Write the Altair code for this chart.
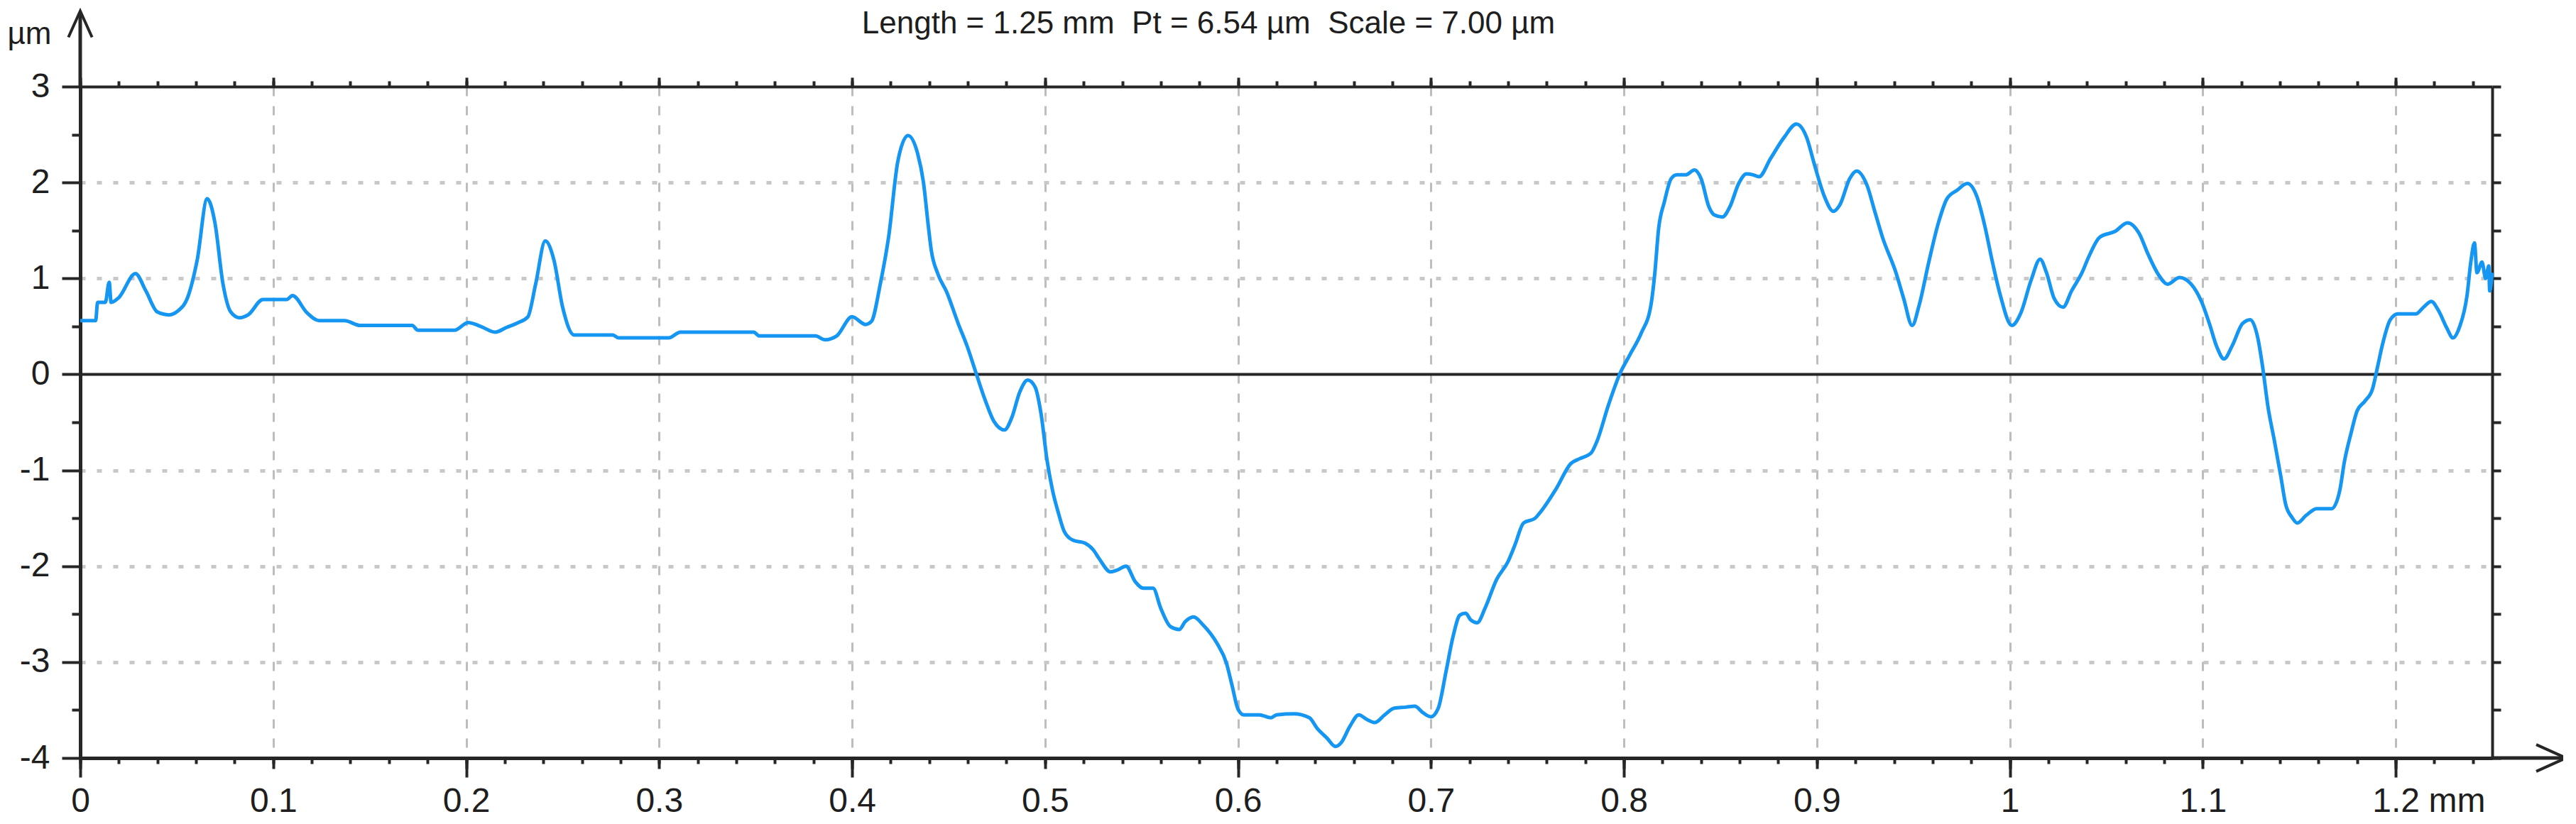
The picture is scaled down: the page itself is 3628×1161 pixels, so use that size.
import altair as alt
import pandas as pd

# ---- profile data ----
x_mm = [
    0.000, 0.008, 0.009, 0.013, 0.015, 0.016, 0.020, 0.0286, 0.034, 0.040, 0.046, 0.0506, 0.056, 0.0606,
    0.0658, 0.0698, 0.074, 0.078, 0.0825, 0.087, 0.0947, 0.101, 0.107, 0.110, 0.1176, 0.1237, 0.137, 0.145,
    0.172, 0.175, 0.194, 0.201, 0.2075, 0.215, 0.221, 0.227, 0.232, 0.236, 0.241, 0.2455, 0.250, 0.256,
    0.276, 0.279, 0.305, 0.311, 0.349, 0.352, 0.381, 0.386, 0.392, 0.400, 0.407, 0.410, 0.4146, 0.419,
    0.4237, 0.429, 0.434,
    0.437, 0.4395, 0.441, 0.4444, 0.449, 0.455, 0.4597, 0.4643, 0.469, 0.4735, 0.479, 0.4826, 0.487, 0.491,
    0.4948, 0.498, 0.501, 0.504, 0.507, 0.510, 0.5146, 0.5207, 0.525, 0.528, 0.534, 0.5375, 0.542, 0.5467,
    0.551, 0.556, 0.560, 0.565, 0.5696, 0.5726, 0.577, 0.5818, 0.589, 0.594, 0.597, 0.600, 0.603, 0.611,
    0.617, 0.620, 0.629, 0.637, 0.641, 0.646, 0.6505, 0.6535, 0.658, 0.6626, 0.667, 0.671, 0.676, 0.681,
    0.687, 0.6916, 0.696, 0.700, 0.7038, 0.7078, 0.7115, 0.715, 0.718, 0.7206, 0.724, 0.728, 0.734, 0.740,
    0.7435, 0.748, 0.754, 0.757, 0.765, 0.7725, 0.777, 0.783, 0.786, 0.792, 0.798, 0.803, 0.809, 0.814,
    0.816, 0.818, 0.821, 0.8245, 0.8275, 0.832, 0.8366, 0.840, 0.844, 0.847, 0.851, 0.855, 0.8595, 0.8635,
    0.867, 0.870, 0.876,
    0.883, 0.8894, 0.8947, 0.8987, 0.904, 0.9085, 0.912, 0.917, 0.9206, 0.926, 0.930, 0.934, 0.941, 0.945,
    0.9494, 0.953, 0.958, 0.963, 0.9674, 0.9727, 0.978, 0.983, 0.987, 0.991, 0.995, 1.001, 1.0057, 1.011,
    1.0157, 1.019, 1.023, 1.0276, 1.032, 1.0374, 1.041, 1.0466, 1.0545, 1.061, 1.067, 1.0717, 1.077, 1.0818,
    1.088, 1.094, 1.0995, 1.1034, 1.1074, 1.111, 1.1153, 1.1206, 1.1246, 1.1285, 1.131, 1.1338, 1.137,
    1.1404, 1.143, 1.1462, 1.1489, 1.1536, 1.159, 1.1668, 1.171, 1.1734, 1.177, 1.180, 1.184, 1.188, 1.1906,
    1.193, 1.1972, 1.2012, 1.2104, 1.2144, 1.2184, 1.2223, 1.2263, 1.2297, 1.233, 1.237, 1.2389, 1.2408,
    1.2421, 1.2447, 1.2466, 1.2482, 1.2487, 1.250,
]
z_um = [
    0.56, 0.56, 0.75, 0.75, 0.96, 0.75, 0.80, 1.05, 0.87, 0.65, 0.62, 0.66, 0.82, 1.19,
    1.83, 1.58, 0.94, 0.65, 0.59, 0.62, 0.78, 0.78, 0.78, 0.82, 0.64, 0.56, 0.56, 0.51,
    0.51, 0.46, 0.46, 0.54, 0.50, 0.44, 0.49, 0.54, 0.60, 0.94, 1.39, 1.19, 0.70, 0.41,
    0.41, 0.38, 0.38, 0.44, 0.44, 0.40, 0.40, 0.36, 0.40, 0.60, 0.52, 0.55, 0.94, 1.44,
    2.22, 2.49, 2.30,
    2.00, 1.55, 1.30, 1.05, 0.86, 0.53, 0.29, 0.01, -0.27, -0.49, -0.58, -0.46, -0.18, -0.06,
    -0.13, -0.42, -0.89, -1.22, -1.45, -1.64, -1.73, -1.76, -1.83, -1.92, -2.06, -2.04, -2.00, -2.16,
    -2.23, -2.23, -2.44, -2.63, -2.66, -2.58, -2.53, -2.61, -2.80, -3.01, -3.25, -3.49, -3.55, -3.55,
    -3.58, -3.55, -3.54, -3.58, -3.69, -3.79, -3.88, -3.84, -3.67, -3.55, -3.60, -3.63, -3.55, -3.48,
    -3.47, -3.46, -3.53, -3.57, -3.48, -3.10, -2.73, -2.51, -2.49, -2.56, -2.59, -2.44, -2.14, -1.95,
    -1.78, -1.55, -1.50, -1.43, -1.19, -0.93, -0.88, -0.82, -0.70, -0.32, 0.01, 0.20, 0.43, 0.72,
    1.05, 1.52, 1.80, 2.04, 2.08, 2.08, 2.13, 2.04, 1.75, 1.66, 1.64, 1.75, 1.99, 2.09,
    2.08, 2.06, 2.25,
    2.47, 2.61, 2.47, 2.19, 1.85, 1.70, 1.77, 2.04, 2.12, 1.97, 1.70, 1.43, 1.06, 0.79,
    0.51, 0.72, 1.17, 1.58, 1.83, 1.92, 1.99, 1.85, 1.55, 1.17, 0.83, 0.51, 0.64, 0.98,
    1.20, 1.06, 0.79, 0.70, 0.87, 1.06, 1.23, 1.43, 1.49, 1.58, 1.47, 1.25, 1.04, 0.94,
    1.01, 0.94, 0.75, 0.53, 0.28, 0.16, 0.30, 0.53, 0.57, 0.38, 0.08, -0.34, -0.68,
    -1.06, -1.36, -1.49, -1.55, -1.47, -1.40, -1.40, -1.21, -0.91, -0.60, -0.38, -0.28, -0.15, 0.08,
    0.30, 0.57, 0.63, 0.63, 0.70, 0.76, 0.66, 0.49, 0.38, 0.49, 0.83, 1.17, 1.37,
    1.06, 1.17, 1.00, 1.13, 0.87, 1.06,
]

# ---- axis tick values and texts ----
x_label_ticks = [0, 0.1, 0.2, 0.3, 0.4, 0.5, 0.6, 0.7, 0.8, 0.9, 1, 1.1, 1.2]
x_long_ticks = [0, 0.2, 0.4, 0.6, 0.8, 1, 1.2]
x_minor_ticks = [round(i * 0.02, 2) for i in range(63)]
y_label_ticks = [-4, -3, -2, -1, 0, 1, 2, 3]
y_half_ticks = [-3.5, -2.5, -1.5, -0.5, 0.5, 1.5, 2.5]
y_grid_ticks = [-3, -2, -1, 1, 2]
zero_level = [0]
x_domain = [0, 1.25]
y_domain = [-4, 3]
title_text = "Length = 1.25 mm\u00a0 Pt = 6.54 µm\u00a0 Scale = 7.00 µm"
y_unit = "µm"
x_unit = "mm"

W, H = 3397, 946
FONT = "Liberation Sans"
LINE_COLOR = "#1496f2"
AX = "#262626"
TXT = "#1e1e1e"
FS = 48

df = pd.DataFrame({"x": x_mm, "z": z_um})
xs = alt.Scale(domain=x_domain, nice=False, zero=False)
ys = alt.Scale(domain=y_domain, nice=False, zero=False)


def axis_layer(xaxis, yaxis):
    return alt.Chart(df).mark_line(opacity=0).encode(
        x=alt.X("x:Q", scale=xs, axis=xaxis),
        y=alt.Y("z:Q", scale=ys, axis=yaxis),
    )


# grids
grid = axis_layer(
    alt.Axis(orient="bottom", values=x_label_ticks[1:], domain=False, ticks=False, labels=False,
             grid=True, gridDash=[13, 14], gridColor="#bdbdbd", gridWidth=3, title=None),
    alt.Axis(orient="left", values=y_grid_ticks, domain=False, ticks=False, labels=False,
             grid=True, gridDash=[7, 16], gridColor="#c8c8c8", gridWidth=5, title=None),
)

# main labelled axes
main_axes = axis_layer(
    alt.Axis(orient="bottom", values=x_label_ticks, grid=False, domain=True, domainWidth=5,
             domainColor=AX, ticks=True, tickSize=15, tickWidth=4, tickColor=AX,
             labels=True, labelExpr="'' + datum.value", labelFont=FONT, labelFontSize=FS,
             labelColor=TXT, labelPadding=22, labelFlush=False, labelOverlap=False,
             title=None),
    alt.Axis(orient="left", values=y_label_ticks, grid=False, domain=True, domainWidth=5,
             domainColor=AX, ticks=True, tickSize=26, tickWidth=4, tickColor=AX,
             labels=True, labelExpr="'' + datum.value", labelFont=FONT, labelFontSize=FS,
             labelColor=TXT, labelPadding=17, labelFlush=False, labelOverlap=False,
             title=y_unit, titleFont=FONT, titleFontSize=44, titleFontWeight="normal",
             titleColor=TXT, titleAngle=0, titleAlign="right", titleBaseline="alphabetic",
             titleX=-41, titleY=-61),
)

long_ticks = axis_layer(
    alt.Axis(orient="bottom", values=x_long_ticks, domain=False, grid=False, labels=False,
             ticks=True, tickSize=27, tickWidth=4, tickColor=AX, title=None),
    alt.Axis(orient="left", values=y_half_ticks, domain=False, grid=False, labels=False,
             ticks=True, tickSize=12, tickWidth=4, tickColor=AX, title=None),
)

minor_bottom = axis_layer(
    alt.Axis(orient="bottom", values=x_minor_ticks, domain=False, grid=False, labels=False,
             ticks=True, tickSize=8, tickWidth=4, tickColor=AX, title=None),
    alt.Axis(orient="right", values=y_label_ticks + y_half_ticks, domain=True, domainWidth=4,
             domainColor=AX, grid=False, labels=False, ticks=True, tickSize=12, tickWidth=4,
             tickColor=AX, title=None),
)

top_minor = axis_layer(
    alt.Axis(orient="top", values=x_minor_ticks, domain=True, domainWidth=4, domainColor=AX,
             grid=False, labels=False, ticks=True, tickSize=8, tickWidth=4, tickColor=AX,
             title=None),
    None,
)

top_major = axis_layer(
    alt.Axis(orient="top", values=x_label_ticks, domain=False, grid=False, labels=False,
             ticks=True, tickSize=13, tickWidth=4, tickColor=AX, title=None),
    None,
)

unit_axis = axis_layer(
    alt.Axis(orient="bottom", values=[x_label_ticks[-1]], domain=False, grid=False, ticks=False,
             labels=True, labelExpr=f"'{x_unit}'", labelFont=FONT, labelFontSize=FS,
             labelColor=TXT, labelAlign="left", labelOffset=46, labelPadding=37,
             labelFlush=False, title=None),
    None,
)

zero_rule = alt.Chart(pd.DataFrame({"z": zero_level})).mark_rule(
    color=AX, strokeWidth=4
).encode(y=alt.Y("z:Q", scale=ys, axis=None))

profile = alt.Chart(df).mark_line(
    color=LINE_COLOR, strokeWidth=5, interpolate="monotone", strokeJoin="round"
).encode(
    x=alt.X("x:Q", scale=xs, axis=None),
    y=alt.Y("z:Q", scale=ys, axis=None),
)

one = pd.DataFrame({"t": [title_text]})
title_mark = alt.Chart(one).mark_text(
    font=FONT, fontSize=44, color=TXT, align="center", baseline="alphabetic"
).encode(x=alt.value(1589), y=alt.value(-75), text="t:N")

y_arrow_line = alt.Chart(one).mark_rule(color=AX, strokeWidth=5).encode(
    x=alt.value(0), y=alt.value(0), y2=alt.value(-104)
)
y_arrow_head = alt.Chart(one).mark_point(
    shape="M-0.9,1L0,-1L0.9,1", size=1369, filled=False, stroke=AX, strokeWidth=4, opacity=1
).encode(x=alt.value(0), y=alt.value(-88))
x_arrow_line = alt.Chart(one).mark_rule(color=AX, strokeWidth=5).encode(
    x=alt.value(W), x2=alt.value(W + 102), y=alt.value(H)
)
x_arrow_head = alt.Chart(one).mark_point(
    shape="M-1,-0.9L1,0L-1,0.9", size=1764, filled=False, stroke=AX, strokeWidth=4, opacity=1
).encode(x=alt.value(W + 83), y=alt.value(H))

chart = alt.layer(
    grid, zero_rule, profile, main_axes, long_ticks, minor_bottom, top_minor, top_major,
    unit_axis, title_mark, y_arrow_line, y_arrow_head, x_arrow_line, x_arrow_head,
).resolve_axis(x="independent", y="independent").properties(
    width=W,
    height=H,
    autosize=alt.AutoSizeParams(type="none"),
    padding={"left": 105, "top": 114, "right": 100, "bottom": 85},
).configure_view(stroke=None).configure(background="white")

chart.save("out.html", embed_options={"renderer": "svg", "actions": False})
